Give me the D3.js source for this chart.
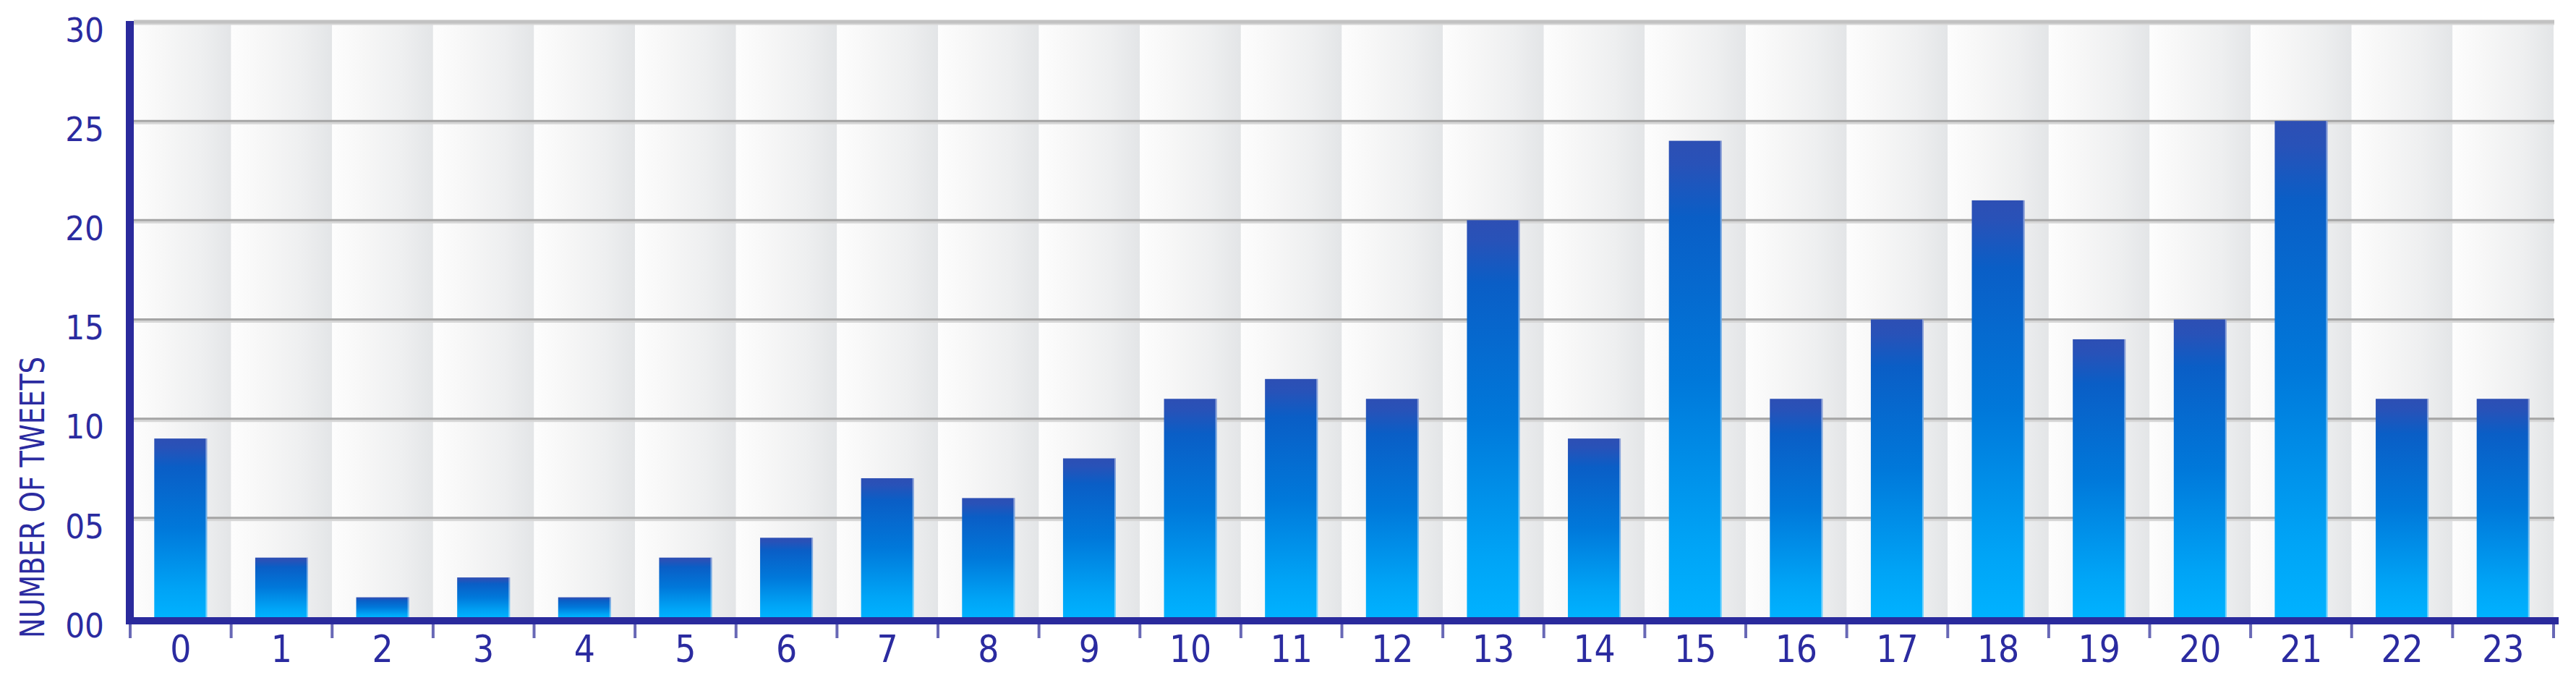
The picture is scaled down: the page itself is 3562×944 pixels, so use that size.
<!DOCTYPE html>
<html>
<head>
<meta charset="utf-8">
<script src="https://cdn.jsdelivr.net/npm/d3@7"></script>
<style>
  body { margin: 0; background: #fff; }
  svg { display: block; }
</style>
</head>
<body>
<div id="chart"></div>
<script>
// Hours of the day and tweet counts
const hours = d3.range(0, 24).map(String);
const tweets = [9, 3, 1, 2, 1, 3, 4, 7, 6, 8, 11, 12, 11, 20, 9, 24, 11, 15, 21, 14, 15, 25, 11, 11];
const yTicks = [0, 5, 10, 15, 20, 25, 30];
const yTitle = "NUMBER OF TWEETS";

const data = hours.map((h, i) => ({ hour: h, count: tweets[i] }));

const width = 3562, height = 944;
const margin = { top: 30, bottom: 91, left: 180, right: 31 };
const font = "'Liberation Sans Narrow', 'DejaVu Sans Condensed', Roboto, sans-serif";
const ink = "#2b2ba0";

const svg = d3.select("#chart")
    .append("svg")
    .attr("width", width)
    .attr("height", height)
    .style("background", "#fff");

const defs = svg.append("defs");

// column background: white on the left, light grey on the right
const colGrad = defs.append("linearGradient").attr("id", "colGrad")
    .attr("x1", 0).attr("x2", 1).attr("y1", 0).attr("y2", 0);
colGrad.append("stop").attr("offset", "0%").attr("stop-color", "#fdfdfd");
colGrad.append("stop").attr("offset", "30%").attr("stop-color", "#f7f7f7");
colGrad.append("stop").attr("offset", "70%").attr("stop-color", "#eeeff0");
colGrad.append("stop").attr("offset", "100%").attr("stop-color", "#e3e5e7");

// bar gradient: dark blue at top, bright cyan at bottom
const barGrad = defs.append("linearGradient").attr("id", "barGrad")
    .attr("x1", 0).attr("x2", 0).attr("y1", 0).attr("y2", 1);
barGrad.append("stop").attr("offset", "0%").attr("stop-color", "#2d4fb4");
barGrad.append("stop").attr("offset", "5%").attr("stop-color", "#2852b8");
barGrad.append("stop").attr("offset", "16%").attr("stop-color", "#0a5ec6");
barGrad.append("stop").attr("offset", "50%").attr("stop-color", "#0078da");
barGrad.append("stop").attr("offset", "85%").attr("stop-color", "#00a4f6");
barGrad.append("stop").attr("offset", "100%").attr("stop-color", "#00b2ff");

// scales
const xCol = d3.scaleBand()
    .domain(hours)
    .range([margin.left, width - margin.right])
    .padding(0);

const xScale = d3.scaleBand()
    .domain(hours)
    .range([margin.left, width - margin.right])
    .paddingInner(0.477)
    .paddingOuter(0.2385);

const yScale = d3.scaleLinear()
    .domain([0, 30])
    .range([height - margin.bottom, margin.top]);

const plotLeft = margin.left + 5;
const plotRight = width - margin.right + 1;
const y0 = yScale(0);

// column backgrounds
svg.append("g")
    .selectAll("rect")
    .data(hours)
    .enter()
    .append("rect")
    .attr("x", d => Math.max(xCol(d), plotLeft))
    .attr("y", yScale(30))
    .attr("width", d => xCol(d) + xCol.bandwidth() - Math.max(xCol(d), plotLeft))
    .attr("height", y0 - yScale(30))
    .attr("fill", "url(#colGrad)");

// gridlines (with a soft shadow underneath)
const grid = svg.append("g");
grid.selectAll("line.shadow")
    .data(yTicks.filter(d => d > 0))
    .enter()
    .append("line")
    .attr("class", "shadow")
    .attr("x1", plotLeft).attr("x2", plotRight)
    .attr("y1", d => yScale(d) + 3).attr("y2", d => yScale(d) + 3)
    .attr("stroke", "#d6d6d6")
    .attr("stroke-width", 3);
grid.selectAll("line.main")
    .data(yTicks.filter(d => d > 0))
    .enter()
    .append("line")
    .attr("class", "main")
    .attr("x1", plotLeft).attr("x2", plotRight)
    .attr("y1", d => yScale(d)).attr("y2", d => yScale(d))
    .attr("stroke", d => d === 30 ? "#c2c2c2" : "#a4a4a4")
    .attr("stroke-width", d => d === 30 ? 5 : 3);

// bars
const bars = svg.append("g");
bars.selectAll("rect.bar")
    .data(data)
    .enter()
    .append("rect")
    .attr("class", "bar")
    .attr("x", d => xScale(d.hour))
    .attr("y", d => yScale(d.count))
    .attr("width", xScale.bandwidth())
    .attr("height", d => y0 - yScale(d.count))
    .attr("fill", "url(#barGrad)");

// light edge on the right side of each bar
bars.selectAll("rect.edge")
    .data(data)
    .enter()
    .append("rect")
    .attr("class", "edge")
    .attr("x", d => xScale(d.hour) + xScale.bandwidth() - 2)
    .attr("y", d => yScale(d.count))
    .attr("width", 2)
    .attr("height", d => y0 - yScale(d.count))
    .attr("fill", "#ffffff")
    .attr("opacity", 0.45);

// axis lines
svg.append("line")
    .attr("x1", margin.left - 0.5).attr("x2", margin.left - 0.5)
    .attr("y1", yScale(30) - 1).attr("y2", y0 + 10)
    .attr("stroke", "#2a2a9c")
    .attr("stroke-width", 11);

svg.append("line")
    .attr("x1", margin.left - 6).attr("x2", width - margin.right + 7)
    .attr("y1", y0 + 5).attr("y2", y0 + 5)
    .attr("stroke", "#2a2a9c")
    .attr("stroke-width", 10);

// tick marks at column boundaries
const boundaries = hours.map(h => xCol(h)).concat([xCol(hours[hours.length - 1]) + xCol.bandwidth()]);
svg.append("g")
    .selectAll("line")
    .data(boundaries)
    .enter()
    .append("line")
    .attr("x1", d => d).attr("x2", d => d)
    .attr("y1", y0 + 10).attr("y2", y0 + 29)
    .attr("stroke", "#6868b6")
    .attr("stroke-width", 4);

// x-axis labels
const xAxis = svg.append("g")
    .attr("transform", `translate(0,${y0 + 10})`)
    .call(d3.axisBottom(xCol).tickSize(0).tickPadding(0));
xAxis.select(".domain").remove();
xAxis.selectAll("text")
    .attr("dy", 52)
    .attr("y", 0)
    .style("font-family", font)
    .style("font-size", "51px")
    .style("fill", ink);

// y-axis labels (sit a little below their gridlines)
const yAxis = svg.append("g")
    .attr("transform", `translate(${margin.left},0)`)
    .call(d3.axisLeft(yScale).tickValues(yTicks).tickFormat(d3.format("02d")).tickSize(0).tickPadding(36));
yAxis.select(".domain").remove();
yAxis.selectAll("text")
    .attr("dy", "0.58em")
    .style("font-family", font)
    .style("font-size", "47px")
    .style("fill", ink);

// y-axis title (narrow lettering)
svg.append("text")
    .attr("transform", `translate(61,${y0 + 29}) rotate(-90)`)
    .attr("textLength", 389)
    .attr("lengthAdjust", "spacingAndGlyphs")
    .style("text-anchor", "start")
    .style("font-family", font)
    .style("font-size", "46px")
    .style("fill", ink)
    .text(yTitle);
</script>
</body>
</html>
